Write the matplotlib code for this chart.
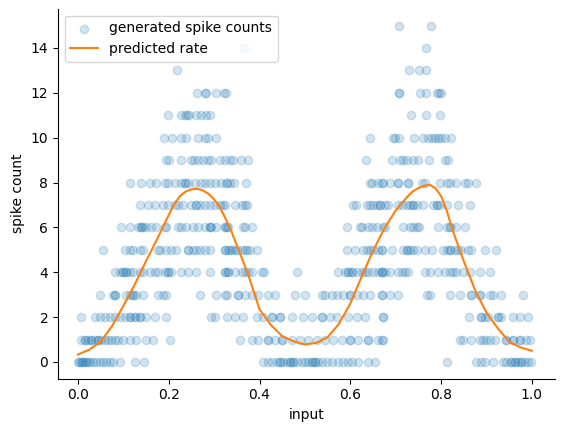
import matplotlib
matplotlib.use("Agg")
import matplotlib.pyplot as plt

# spike counts, one list of inputs per count
counts_x = {
    15: [0.707, 0.777],
    14: [0.366, 0.767],
    13: [0.219, 0.730, 0.752, 0.766],
    12: [0.263, 0.279, 0.283, 0.305, 0.322, 0.326, 0.708, 0.708, 0.753, 0.766, 0.790, 0.796, 0.799],
    11: [0.198, 0.228, 0.235, 0.240, 0.244, 0.261, 0.272, 0.283, 0.290, 0.733, 0.767, 0.797],
    10: [0.189, 0.207, 0.228, 0.239, 0.264, 0.279, 0.286, 0.305, 0.644,
         0.695, 0.698, 0.708, 0.741, 0.761, 0.772, 0.779, 0.786, 0.794, 0.800, 0.808, 0.822],
    9: [0.195, 0.200, 0.226, 0.248, 0.256, 0.264, 0.275, 0.286, 0.294, 0.312, 0.323,
        0.335, 0.342, 0.359, 0.375, 0.635,
        0.692, 0.709, 0.717, 0.724, 0.739, 0.750, 0.774, 0.808, 0.816],
    8: [0.115, 0.139, 0.158, 0.172, 0.191, 0.198, 0.213, 0.228, 0.235, 0.242, 0.257, 0.272,
        0.279, 0.290, 0.301, 0.316, 0.327, 0.328, 0.335, 0.344, 0.370, 0.235,
        0.643, 0.647, 0.661, 0.672, 0.669, 0.687, 0.706, 0.728, 0.757, 0.764, 0.797,
        0.812, 0.819, 0.834, 0.852, 0.860, 0.878, 0.706, 0.728],
    7: [0.136, 0.154, 0.169, 0.187, 0.198, 0.213, 0.220, 0.231, 0.250, 0.261, 0.268, 0.279,
        0.290, 0.301, 0.312, 0.319, 0.324, 0.346, 0.361, 0.368, 0.372, 0.261,
        0.606, 0.612, 0.636, 0.643, 0.650, 0.658, 0.665, 0.676,
        0.665, 0.683, 0.706, 0.713, 0.724, 0.731, 0.739, 0.746, 0.761, 0.783, 0.790,
        0.797, 0.812, 0.838, 0.863, 0.739, 0.790],
    6: [0.095, 0.114, 0.132, 0.139, 0.143, 0.150, 0.161, 0.172, 0.191, 0.194, 0.220, 0.228,
        0.239, 0.253, 0.264, 0.279, 0.290, 0.294, 0.305, 0.323, 0.329, 0.324, 0.331, 0.364,
        0.368, 0.383, 0.592, 0.621, 0.625, 0.639, 0.647, 0.658, 0.672, 0.139, 0.290,
        0.676, 0.717, 0.731, 0.739, 0.746, 0.752, 0.794, 0.812, 0.819, 0.834, 0.852, 0.819],
    5: [0.055, 0.103, 0.114, 0.121, 0.136, 0.143, 0.176, 0.180, 0.194, 0.206, 0.217, 0.242,
        0.253, 0.261, 0.268, 0.279, 0.290, 0.323, 0.324, 0.331, 0.339, 0.346, 0.350, 0.361,
        0.368, 0.372, 0.379, 0.394, 0.592, 0.610, 0.628, 0.636, 0.643, 0.650, 0.661, 0.669,
        0.669, 0.691, 0.717, 0.724, 0.731, 0.739, 0.746, 0.764, 0.779, 0.805, 0.812, 0.819,
        0.830, 0.838, 0.845, 0.860, 0.867, 0.896, 0.922, 0.242, 0.336, 0.724, 0.819],
    4: [0.081, 0.092, 0.099, 0.106, 0.114, 0.121, 0.136, 0.143, 0.158, 0.169, 0.176, 0.191,
        0.198, 0.206, 0.228, 0.242, 0.261, 0.290, 0.323, 0.330, 0.324, 0.331, 0.346, 0.361,
        0.368, 0.375, 0.383, 0.405, 0.410, 0.482, 0.573, 0.588, 0.595, 0.603, 0.614, 0.625,
        0.632, 0.639, 0.650, 0.661, 0.669, 0.669, 0.676, 0.687, 0.706, 0.713, 0.720, 0.728,
        0.764, 0.775, 0.794, 0.808, 0.819, 0.827, 0.834, 0.849, 0.863, 0.885, 0.907,
        0.099, 0.106, 0.199, 0.595, 0.603, 0.669],
    3: [0.049, 0.077, 0.081, 0.106, 0.114, 0.121, 0.128, 0.143, 0.176, 0.187, 0.194, 0.268,
        0.305, 0.323, 0.328, 0.353, 0.368, 0.383, 0.397, 0.419, 0.434, 0.478, 0.500, 0.537,
        0.544, 0.559, 0.570, 0.584, 0.599, 0.614, 0.628, 0.643, 0.669, 0.669, 0.687, 0.706,
        0.768, 0.775, 0.819, 0.841, 0.867, 0.885, 0.907, 0.915, 0.933, 0.981,
        0.081, 0.121, 0.353, 0.599, 0.867, 0.885],
    2: [0.007, 0.037, 0.048, 0.059, 0.070, 0.081, 0.092, 0.103, 0.114, 0.125, 0.136, 0.150,
        0.169, 0.194, 0.294, 0.301, 0.328, 0.346, 0.364, 0.394, 0.408, 0.427, 0.445, 0.471,
        0.496, 0.515, 0.537, 0.555, 0.570, 0.595, 0.614, 0.632, 0.672, 0.672, 0.862, 0.889,
        0.896, 0.904, 0.926, 0.933, 0.959, 0.974, 0.992,
        0.114, 0.125, 0.136, 0.427, 0.445, 0.537, 0.889, 0.926],
    1: [0.006, 0.015, 0.022, 0.029, 0.037, 0.044, 0.051, 0.059, 0.066, 0.073, 0.081, 0.088,
        0.099, 0.114, 0.128, 0.150, 0.165, 0.202, 0.357, 0.383, 0.397, 0.419, 0.434, 0.449,
        0.471, 0.489, 0.507, 0.526, 0.544, 0.562, 0.581, 0.599, 0.617, 0.639, 0.661, 0.672,
        0.669, 0.841, 0.849, 0.867, 0.885, 0.893, 0.900, 0.907, 0.918, 0.944, 0.959, 0.974,
        0.988, 0.996, 0.015, 0.029, 0.044, 0.419, 0.449, 0.599, 0.639, 0.944, 0.959, 0.974],
    0: [0.000, 0.006, 0.011, 0.018, 0.026, 0.033, 0.040, 0.048, 0.055, 0.062, 0.070, 0.077,
        0.092, 0.125, 0.145, 0.408, 0.419, 0.427, 0.438, 0.445, 0.452, 0.460, 0.467, 0.474,
        0.482, 0.493, 0.500, 0.507, 0.515, 0.522, 0.529, 0.537, 0.548, 0.559, 0.573, 0.584,
        0.595, 0.603, 0.617, 0.639, 0.654, 0.812, 0.878, 0.889, 0.896, 0.915, 0.937, 0.944,
        0.955, 0.963, 0.970, 0.977, 0.985, 0.992, 0.999,
        0.003, 0.009, 0.015, 0.022, 0.445, 0.467, 0.474, 0.515, 0.522, 0.955, 0.963, 0.977],
}

rate_x = [0, .025, .05, .075, .1, .125, .15, .175, .2, .2125, .225, .2375, .25, .2625, .275,
          .2875, .3, .3125, .325, .3375, .35, .375, .4, .425, .45, .475, .5, .525, .55, .575,
          .6, .625, .65, .675, .7, .725, .7375, .75, .7625, .775, .7875, .8, .8125, .825,
          .8375, .85, .875, .9, .925, .95, .975, 1.0]
rate_y = [0.33, 0.55, 0.9, 1.6, 2.5, 3.45, 4.5, 5.5, 6.55, 7.05, 7.4, 7.6, 7.7, 7.72, 7.65,
          7.5, 7.25, 6.9, 6.4, 5.85, 5.2, 3.9, 2.35, 1.65, 1.15, 0.92, 0.78, 0.85, 1.1, 1.7,
          2.6, 3.8, 4.95, 5.95, 6.75, 7.35, 7.6, 7.75, 7.85, 7.9, 7.75, 7.4, 6.75, 5.9,
          5.2, 4.5, 3.2, 2.2, 1.5, 0.9, 0.65, 0.5]

xs = []
ys = []
for c, lst in counts_x.items():
    for v in lst:
        xs.append(v)
        ys.append(c)

fig = plt.figure(figsize=(5.62, 4.32), dpi=100)
ax = fig.add_axes([0.1032, 0.1232, 0.8843, 0.8567])

ax.scatter(xs, ys, alpha=0.2, label="generated spike counts")
ax.plot(rate_x, rate_y, color="C1", label="predicted rate")

ax.set_xlim(-0.044, 1.051)
ax.set_xlabel("input")
ax.set_ylabel("spike count")
ax.spines["top"].set_visible(False)
ax.spines["right"].set_visible(False)
ax.legend(loc="upper left")

fig.savefig("out.png")
